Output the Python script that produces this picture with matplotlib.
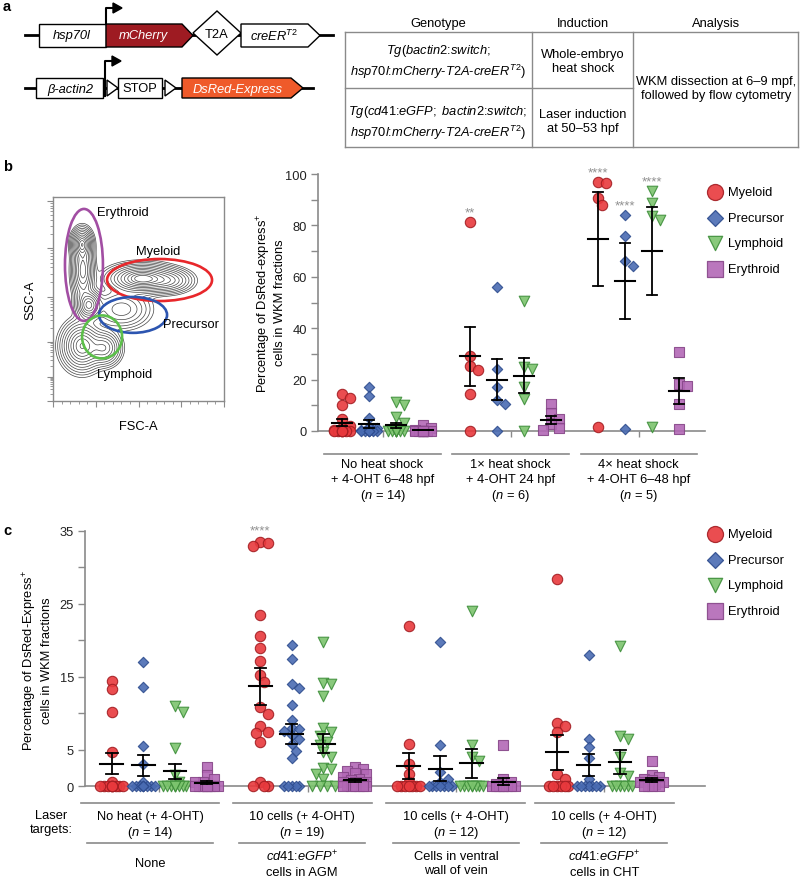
import numpy as np
import matplotlib.pyplot as plt
from matplotlib import transforms
from matplotlib.patches import Polygon, Ellipse

plt.rcParams['font.family'] = ['Liberation Sans', 'DejaVu Sans']
plt.rcParams['mathtext.fontset'] = 'custom'
plt.rcParams['mathtext.rm'] = 'Liberation Sans'
plt.rcParams['mathtext.it'] = 'Liberation Sans:italic'
plt.rcParams['mathtext.bf'] = 'Liberation Sans:bold'
plt.rcParams['mathtext.default'] = 'it'

FS = 9.3
GREY = '#8a8a8a'
W, H = 800, 878

# ---------------- data ----------------
lineages = ['Myeloid', 'Precursor', 'Lymphoid', 'Erythroid']
markers = ['o', 'D', 'v', 's']
sizes = [56, 28, 58, 48]
legend_sizes = [133, 66, 106, 117]
face = ['#e8393d', '#4a6cb3', '#7cc46e', '#b368b6']
edge = ['#a31d22', '#2e4c8e', '#3e8e3a', '#874789']

# panel b: whole-embryo heat shock
b_groups = ['No heat shock\n+ 4-OHT 6–48 hpf\n($n$ = 14)',
            '1× heat shock\n+ 4-OHT 24 hpf\n($n$ = 6)',
            '4× heat shock\n+ 4-OHT 6–48 hpf\n($n$ = 5)']
b_myeloid = [[14.5, 13, 10, 4.5, 2, 1, 0.5, 0, 0, 0, 0, 0, 0, 0],
             [81.4, 29.2, 25.3, 23.8, 14.3, 0],
             [96.8, 96.5, 90.7, 88, 1.7]]
b_precursor = [[17, 13.5, 5, 1.5, 1, 0.5, 0.3, 0, 0, 0, 0, 0, 0, 0],
               [56.1, 24.3, 17.1, 12.1, 10.4, 0],
               [84, 76, 66.3, 64.3, 0.8]]
b_lymphoid = [[11.3, 10, 5.6, 3.2, 0.5, 0, 0, 0, 0, 0, 0, 0, 0, 0],
              [50.6, 25, 24.3, 17.1, 12.3, 0],
              [93.5, 88.7, 83.5, 82.2, 1.7]]
b_erythroid = [[2.5, 1, 0.5, 0, 0, 0, 0, 0, 0, 0, 0, 0, 0, 0],
               [10.4, 7, 4.5, 2.6, 1, 0.5],
               [30.9, 18.3, 17.4, 10.5, 0.8]]
b_stars = {(1, 0): '**', (2, 0): '****', (2, 1): '****', (2, 2): '****'}

# panel c: laser induction
c_groups = ['No heat (+ 4-OHT)\n($n$ = 14)', '10 cells (+ 4-OHT)\n($n$ = 19)',
            '10 cells (+ 4-OHT)\n($n$ = 12)', '10 cells (+ 4-OHT)\n($n$ = 12)']
c_targets = ['None', '$cd41$:$eGFP$$^{+}$\ncells in AGM',
             'Cells in ventral\nwall of vein', '$cd41$:$eGFP$$^{+}$\ncells in CHT']
c_myeloid = [[14.4, 13.3, 10.2, 4.6, 0.5, 0, 0, 0, 0, 0, 0, 0, 0, 0],
             [33.5, 33.3, 33.0, 23.5, 20.6, 19.0, 17.1, 15.3, 14.3, 10.8, 9.9,
              8.3, 7.4, 7.3, 6.1, 0.5, 0, 0, 0],
             [22.0, 5.8, 3.0, 1.6, 0.5, 0, 0, 0, 0, 0, 0, 0],
             [28.4, 8.6, 8.2, 7.4, 1.6, 1.0, 0, 0, 0, 0, 0, 0]]
c_precursor = [[17.0, 13.6, 5.5, 3.0, 0.5, 0, 0, 0, 0, 0, 0, 0, 0, 0],
               [19.3, 17.5, 14.0, 13.4, 11.1, 9.1, 8.0, 7.8, 7.5, 7.0, 6.4,
                5.8, 4.8, 3.8, 0, 0, 0, 0, 0],
               [19.8, 5.6, 1.9, 1.0, 0.5, 0, 0, 0, 0, 0, 0, 0],
               [18.0, 6.4, 5.3, 3.9, 1.0, 0, 0, 0, 0, 0, 0, 0]]
c_lymphoid = [[11.0, 10.2, 5.2, 1.5, 0.5, 0, 0, 0, 0, 0, 0, 0, 0, 0],
              [19.8, 14.2, 14.0, 12.4, 7.9, 7.4, 6.9, 6.0, 5.6, 4.6, 4.0,
               2.5, 2.3, 1.6, 1.0, 0, 0, 0, 0],
              [24.0, 5.6, 4.0, 3.5, 0, 0, 0, 0, 0, 0, 0, 0],
              [19.2, 6.9, 6.4, 4.0, 1.8, 1.4, 0, 0, 0, 0, 0, 0]]
c_erythroid = [[2.6, 1.5, 1.0, 0.5, 0.5, 0, 0, 0, 0, 0, 0, 0, 0, 0],
               [2.6, 2.3, 2.1, 1.8, 1.6, 1.2, 1.0, 0.8, 0.6, 0.5, 0.5, 0.3,
                0.2, 0, 0, 0, 0, 0, 0],
               [5.6, 1.0, 0.5, 0.3, 0, 0, 0, 0, 0, 0, 0, 0],
               [3.5, 1.5, 1.2, 1.0, 0.8, 0.5, 0.5, 0.3, 0, 0, 0, 0]]
c_stars = {(1, 0): '****'}

# FACS plot: populations (axes fraction units) for the contour density
pop_x = [0.17, 0.175, 0.21, 0.17, 0.30, 0.52, 0.68, 0.40]
pop_y = [0.77, 0.64, 0.47, 0.27, 0.26, 0.60, 0.59, 0.45]
pop_sx = [0.028, 0.03, 0.035, 0.055, 0.045, 0.09, 0.065, 0.08]
pop_sy = [0.035, 0.07, 0.035, 0.055, 0.04, 0.032, 0.028, 0.045]
pop_w = [0.8, 0.6, 0.7, 0.8, 0.5, 1.0, 0.35, 0.25]
gates = {'Erythroid': ((0.181, 0.667), 0.222, 0.549, '#a24ea3'),
         'Myeloid': ((0.623, 0.593), 0.614, 0.206, '#e8272b'),
         'Precursor': ((0.468, 0.422), 0.398, 0.176, '#2c55b0'),
         'Lymphoid': ((0.287, 0.314), 0.234, 0.211, '#5cbf4a')}
gate_labels = {'Erythroid': (0.257, 0.926), 'Myeloid': (0.485, 0.735),
               'Precursor': (0.643, 0.377), 'Lymphoid': (0.257, 0.132)}


def px_rect(x0, y0, x1, y1):
    return [x0 / W, 1 - y1 / H, (x1 - x0) / W, (y1 - y0) / H]


def swarm(vals, ux, uy, d, cap):
    # simple beeswarm: horizontal offsets (data units) so markers don't pile up
    vals = np.asarray(vals, float)
    step = d / 2
    cands = [0.0]
    k = 1
    while k * step <= cap:
        cands += [k * step, -k * step]
        k += 1
    placed, offs = [], np.zeros(len(vals))
    for i in np.argsort(-vals, kind='stable'):
        y = vals[i] * uy
        best, best_gap = 0.0, -1
        for c in cands:
            gap = min([np.hypot(c - px, y - py) for px, py in placed], default=np.inf)
            if gap >= d:
                best = c
                break
            if gap > best_gap:
                best, best_gap = c, gap
        offs[i] = best / ux
        placed.append((best, y))
    return offs


def dot_plot(ax, series, gap, ux, uy, stars, star_pad, cap):
    centers = []
    for g in range(len(series[0])):
        for k, data in enumerate(series):
            vals = np.asarray(data[g], float)
            x0 = k + gap * g
            xs = x0 + swarm(vals, ux, uy, 8.0, cap)
            ax.scatter(xs, vals, marker=markers[k], s=sizes[k], fc=face[k],
                       ec=edge[k], lw=0.8, alpha=0.9, zorder=3, clip_on=False)
            m = vals.mean()
            sem = vals.std(ddof=1) / np.sqrt(len(vals))
            ax.plot([x0 - 0.36, x0 + 0.36], [m, m], color='k', lw=1.5, zorder=5)
            ax.plot([x0, x0], [m - sem, m + sem], color='k', lw=1.3, zorder=5)
            for yy in (m - sem, m + sem):
                ax.plot([x0 - 0.18, x0 + 0.18], [yy, yy], color='k', lw=1.3, zorder=5)
            if (g, k) in stars:
                top = max(vals.max(), m + sem) + star_pad
                ax.text(x0, top, stars[(g, k)], ha='center', va='center',
                        fontsize=9.5, color='#909090')
        centers.append(1.5 + gap * g)
    return centers


def style_axes(ax, centers):
    for s in ('top', 'right'):
        ax.spines[s].set_visible(False)
    for s in ('left', 'bottom'):
        ax.spines[s].set_color(GREY)
        ax.spines[s].set_linewidth(1.2)
    ax.set_xticks(centers)
    ax.set_xticklabels([])
    ax.tick_params(axis='x', length=4, width=1, color=GREY)
    ax.tick_params(axis='y', which='both', length=5, width=1, color=GREY,
                   labelsize=FS, labelcolor='#222222', pad=3)


fig = plt.figure(figsize=(8, 8.78), dpi=100)

# ---------------- panel b: FACS contour ----------------
axf = fig.add_axes(px_rect(53, 198, 224, 402))
gx, gy = np.meshgrid(np.linspace(0, 1, 300), np.linspace(0, 1, 300))
dens = np.zeros_like(gx)
for cx, cy, sx, sy, w in zip(pop_x, pop_y, pop_sx, pop_sy, pop_w):
    dens += w * np.exp(-0.5 * (((gx - cx) / sx) ** 2 + ((gy - cy) / sy) ** 2))
radii = np.linspace(2.9, 0.5, 12)
axf.contour(gx, gy, dens, levels=dens.max() * np.exp(-0.5 * radii ** 2),
            colors='#444444', linewidths=0.5)
for name, (c, w, h, col) in gates.items():
    axf.add_patch(Ellipse(c, w, h, fill=False, ec=col, lw=1.9, zorder=4))
    axf.text(*gate_labels[name], name, fontsize=FS, ha='left', va='center', zorder=5)
axf.set_xlim(0, 1)
axf.set_ylim(0, 1)
for s in axf.spines.values():
    s.set_color(GREY)
    s.set_linewidth(1.0)
axf.set_xticks(np.linspace(0, 1, 5))
axf.set_xticks(np.linspace(0, 1, 21), minor=True)
yt_major = [0.0, 0.12, 0.29, 0.51, 0.75, 0.98]
yt_minor = [a + (b - a) * np.log10(j) for a, b in zip(yt_major[:-1], yt_major[1:])
            for j in range(2, 10)]
axf.set_yticks(yt_major)
axf.set_yticks(yt_minor, minor=True)
axf.set_xticklabels([])
axf.set_yticklabels([])
axf.tick_params(which='major', length=4, width=0.8, color=GREY)
axf.tick_params(which='minor', length=2, width=0.6, color=GREY)
axf.set_xlabel('FSC-A', fontsize=FS, labelpad=6)
axf.set_ylabel('SSC-A', fontsize=FS, labelpad=4.5)

# ---------------- panel b: dot plot ----------------
GAP_B = 4.74
ax_b = fig.add_axes(px_rect(318, 175, 705, 432))
ax_b.set_facecolor('none')
ax_b.set_xlim(-0.89, 13.44)
ax_b.set_ylim(0, 100)
cent_b = dot_plot(ax_b, [b_myeloid, b_precursor, b_lymphoid, b_erythroid],
                  GAP_B, 27.0, 2.57, b_stars, 3.8, 8.0)
style_axes(ax_b, cent_b)
ax_b.set_yticks(np.arange(0, 101, 20))
ax_b.set_yticks(np.arange(10, 100, 20), minor=True)

# ---------------- panel c: dot plot ----------------
GAP_C = 4.7
ax_c = fig.add_axes(px_rect(85, 532, 705, 787))
ax_c.set_facecolor('none')
ax_c.set_xlim(-0.85, 18.79)
ax_c.set_ylim(0, 35)
cent_c = dot_plot(ax_c, [c_myeloid, c_precursor, c_lymphoid, c_erythroid],
                  GAP_C, 33.0, 7.29, c_stars, 1.6, 12.0)
style_axes(ax_c, cent_c)
ax_c.set_yticks(np.arange(0, 36, 5))
ax_c.set_yticklabels(['0', '5', '', '15', '', '25', '', '35'])

# ---------------- overlay (pixel coordinates) ----------------
ov = fig.add_axes([0, 0, 1, 1])
ov.set_xlim(0, W)
ov.set_ylim(H, 0)
ov.axis('off')

for lab, y in (('a', 7), ('b', 167), ('c', 531)):
    ov.text(3, y, lab, fontsize=10.5, fontweight='bold', ha='left', va='center')


def part(x0, x1, y0, y1, fc, tip=0.0):
    ym = (y0 + y1) / 2
    pts = [(x0, y0), (x1, y0), (x1 + tip, ym), (x1, y1), (x0, y1)]
    ov.add_patch(Polygon(pts, closed=True, fc=fc, ec='black', lw=1, zorder=3))


# construct 1
ov.plot([25, 333], [36, 36], color='k', lw=2, zorder=1)
part(39, 106, 25, 48, 'white')
ov.text(72, 36.5, 'hsp70l', fontsize=FS, style='italic', ha='center', va='center', zorder=4)
part(106, 182, 25, 48, '#9e1b22', tip=11)
ov.text(143, 36.5, 'mCherry', fontsize=FS, style='italic', color='white',
        ha='center', va='center', zorder=4)
ov.add_patch(Polygon([(193, 34), (217, 12), (241, 34), (217, 56)], closed=True,
                     fc='white', ec='k', lw=1, zorder=3))
ov.text(217, 34.5, 'T2A', fontsize=FS, ha='center', va='center', zorder=4)
part(241, 308, 25, 48, 'white', tip=12)
ov.text(274, 36.5, 'creER$^{T2}$', fontsize=FS, style='italic', ha='center',
        va='center', zorder=4)
ov.plot([106, 106, 114], [25, 9, 9], color='k', lw=1.5, zorder=4)
ov.add_patch(Polygon([(113, 4), (122, 9), (113, 14)], closed=True, fc='k', ec='k', zorder=4))

# construct 2
ov.plot([25, 313], [89, 89], color='k', lw=2, zorder=1)
part(36, 103, 79, 99, 'white')
ov.text(70, 89.5, 'β-actin2', fontsize=FS, style='italic', ha='center', va='center', zorder=4)
ov.plot([105, 105, 113], [97, 62, 62], color='k', lw=1.5, zorder=4)
ov.add_patch(Polygon([(112, 57), (121, 62), (112, 67)], closed=True, fc='k', ec='k', zorder=4))
for lx in (107, 165):
    ov.add_patch(Polygon([(lx, 81), (lx + 11, 89), (lx, 97)], closed=True,
                         fc='white', ec='k', lw=1, zorder=3))
part(118, 162, 79, 99, 'white')
ov.text(140, 89.5, 'STOP', fontsize=FS, ha='center', va='center', zorder=4)
part(182, 291, 79, 99, '#ef5a2a', tip=12)
ov.text(238, 89.5, 'DsRed-Express', fontsize=FS, style='italic', color='white',
        ha='center', va='center', zorder=4)

# table
tl = dict(color=GREY, lw=1)
ov.plot([345, 798], [33, 33], **tl)
ov.plot([345, 633], [89, 89], **tl)
ov.plot([345, 798], [148, 148], **tl)
for vx in (345, 532, 633, 798):
    ov.plot([vx, vx], [33, 148], **tl)
for txt, x in (('Genotype', 438), ('Induction', 583), ('Analysis', 716)):
    ov.text(x, 24, txt, fontsize=FS, ha='center', va='center')
ov.text(438, 62, '$Tg(bactin2$:$switch;$\n$hsp70l$:$mCherry$-$T2A$-$creER^{T2})$',
        fontsize=FS, ha='center', va='center', linespacing=1.3)
ov.text(438, 123, '$Tg(cd41$:$eGFP;$ $bactin2$:$switch;$\n$hsp70l$:$mCherry$-$T2A$-$creER^{T2})$',
        fontsize=FS, ha='center', va='center', linespacing=1.3)
ov.text(583, 62, 'Whole-embryo\nheat shock', fontsize=FS, ha='center', va='center',
        linespacing=1.3)
ov.text(583, 122, 'Laser induction\nat 50–53 hpf', fontsize=FS, ha='center',
        va='center', linespacing=1.3)
ov.text(716, 89, 'WKM dissection at 6–9 mpf,\nfollowed by flow cytometry',
        fontsize=FS, ha='center', va='center', linespacing=1.3)

# y labels
ov.text(270.5, 303, 'Percentage of DsRed-express$^{+}$\ncells in WKM fractions',
        rotation=90, fontsize=FS, ha='center', va='center', linespacing=1.2)
ov.text(37, 661, 'Percentage of DsRed-Express$^{+}$\ncells in WKM fractions',
        rotation=90, fontsize=FS, ha='center', va='center', linespacing=1.2)

# group labels b
tb = transforms.blended_transform_factory(ax_b.transData, ov.transData)
for c, lab in zip(cent_b, b_groups):
    ov.plot([c - 2.15, c + 2.15], [455, 455], color=GREY, lw=1.2, transform=tb)
    ov.text(c, 482, lab, transform=tb, fontsize=FS, ha='center', va='center',
            linespacing=1.25)

# group labels c
tc = transforms.blended_transform_factory(ax_c.transData, ov.transData)
c_shift = [-0.29, -0.17, 0.0, 0.0]
for c, sh, lab, tgt in zip(cent_c, c_shift, c_groups, c_targets):
    x = c + sh
    ov.plot([x - 2.2, x + 2.2], [804, 804], color=GREY, lw=1.2, transform=tc)
    ov.plot([x - 2.0, x + 2.0], [844, 844], color=GREY, lw=1.2, transform=tc)
    ov.text(x, 826, lab, transform=tc, fontsize=FS, ha='center', va='center',
            linespacing=1.25)
    ov.text(x, 864, tgt, transform=tc, fontsize=FS, ha='center', va='center',
            linespacing=1.25)
ov.text(51, 823, 'Laser\ntargets:', fontsize=FS, ha='center', va='center', linespacing=1.25)

# legends
for y0 in (193, 535):
    for k, name in enumerate(lineages):
        y = y0 + 25.7 * k
        ov.scatter([715], [y], marker=markers[k], s=legend_sizes[k], fc=face[k],
                   ec=edge[k], lw=0.9, alpha=0.9)
        ov.text(728, y, name, fontsize=FS, ha='left', va='center')

fig.savefig('out.png', dpi=100)
